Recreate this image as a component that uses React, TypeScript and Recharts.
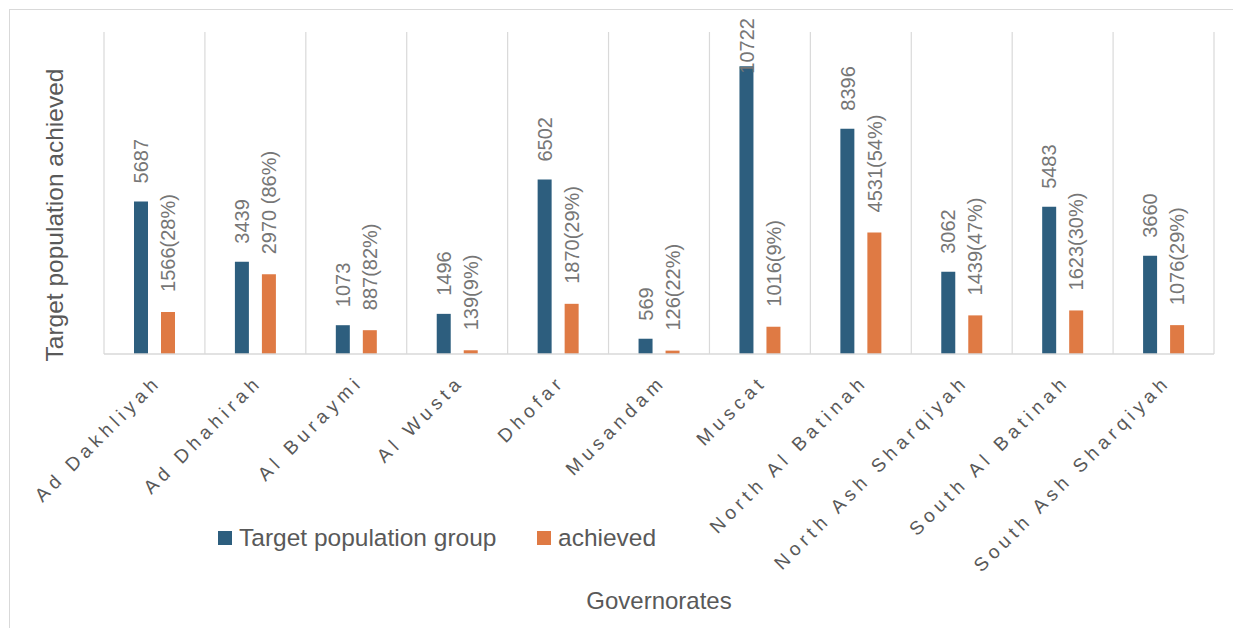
import React from 'react';
import { BarChart, Bar, XAxis, YAxis, CartesianGrid, Legend, LabelList } from 'recharts';

// Governorates and their counts
const categories = [
  'Ad Dakhliyah',
  'Ad Dhahirah',
  'Al Buraymi',
  'Al Wusta',
  'Dhofar',
  'Musandam',
  'Muscat',
  'North Al Batinah',
  'North Ash Sharqiyah',
  'South Al Batinah',
  'South Ash Sharqiyah',
];
const targetGroup = [5687, 3439, 1073, 1496, 6502, 569, 10722, 8396, 3062, 5483, 3660];
const achieved = [1566, 2970, 887, 139, 1870, 126, 1016, 4531, 1439, 1623, 1076];
const achievedShare = ['(28%)', ' (86%)', '(82%)', '(9%)', '(29%)', '(22%)', '(9%)', '(54%)', '(47%)', '(30%)', '(29%)'];

const seriesNames = ['Target population group', 'achieved'];
const seriesColors = ['#2d5e7e', '#df7a44'];
const yDomain: [number, number] = [0, 12000];

const data = categories.map((name, i) => ({
  name,
  target: targetGroup[i],
  achieved: achieved[i],
  achievedLabel: `${achieved[i]}${achievedShare[i]}`,
}));

const FONT = '"Liberation Sans", Arial, Helvetica, sans-serif';
const TEXT = '#595959';
const VALUE_TEXT = '#767676';
const GRID = '#d9d9d9';

const CHART_W = 1231;
const CHART_H = 618;
const Y_AXIS_W = 94;
const X_AXIS_H = 274;
const LABEL_FONT = 20;
const LABEL_TOP = 8;

// rotated value label above each bar; pinned under the top edge when it would overflow
function makeValueLabel(gap: number) {
  return function ValueLabel(props: any) {
    const { x, y, width, value } = props;
    const cx = Number(x) + Number(width) / 2;
    const text = String(value);
    const est = text.length * 0.556 * LABEL_FONT;
    let ay = Number(y) - gap;
    let anchor: 'start' | 'end' = 'start';
    if (ay - est < LABEL_TOP) {
      ay = LABEL_TOP;
      anchor = 'end';
    }
    return (
      <text
        transform={`translate(${cx},${ay}) rotate(-90)`}
        dy="0.36em"
        textAnchor={anchor}
        fill={VALUE_TEXT}
        fontSize={LABEL_FONT}
        fontFamily={FONT}
      >
        {text}
      </text>
    );
  };
}

function CategoryTick(props: any) {
  const { x, y, payload } = props;
  return (
    <text
      transform={`translate(${Number(x) + 8},${Number(y) + 29}) rotate(-45)`}
      textAnchor="end"
      fill={TEXT}
      fontSize={19}
      letterSpacing={4.8}
      fontFamily={FONT}
    >
      {payload.value}
    </text>
  );
}

const legendOffsets = [0, 319];

function LegendBox() {
  return (
    <div style={{ position: 'relative', fontFamily: FONT, fontSize: 24.5, color: TEXT }}>
      {seriesNames.map((n, i) => (
        <div
          key={n}
          style={{
            position: 'absolute',
            left: legendOffsets[i],
            top: 0,
            display: 'flex',
            alignItems: 'center',
            whiteSpace: 'nowrap',
            lineHeight: '28px',
          }}
        >
          <span
            style={{
              display: 'inline-block',
              width: 14,
              height: 14,
              background: seriesColors[i],
              marginRight: 7,
            }}
          />
          {n}
        </div>
      ))}
    </div>
  );
}

export default function App() {
  return (
    <div
      style={{
        position: 'relative',
        marginLeft: 1,
        marginTop: 1,
        width: CHART_W,
        height: CHART_H,
        borderLeft: `1px solid ${GRID}`,
        borderTop: `1px solid ${GRID}`,
      }}
    >
      <BarChart
        width={CHART_W}
        height={CHART_H}
        data={data}
        margin={{ top: 22, right: 27, bottom: 0, left: 0 }}
        barSize={14}
        barGap={13}
      >
        <CartesianGrid
          horizontal={false}
          stroke={GRID}
          strokeWidth={1.2}
          verticalCoordinatesGenerator={({ offset }: any) =>
            Array.from({ length: categories.length + 1 }, (_, i) => offset.left + (i * offset.width) / categories.length)
          }
        />
        <XAxis
          dataKey="name"
          interval={0}
          height={X_AXIS_H}
          tickLine={false}
          tickSize={0}
          tickMargin={0}
          axisLine={{ stroke: GRID, strokeWidth: 1.5 }}
          tick={<CategoryTick />}
          label={{
            content: (p: any) => {
              const vb = p.viewBox;
              return (
                <text
                  x={vb.x + vb.width / 2}
                  y={vb.y + vb.height - 19}
                  textAnchor="middle"
                  fill={TEXT}
                  fontSize={24}
                  fontFamily={FONT}
                >
                  Governorates
                </text>
              );
            },
          }}
        />
        <YAxis
          width={Y_AXIS_W}
          domain={yDomain}
          tick={false}
          tickLine={false}
          axisLine={false}
          label={{
            content: (p: any) => {
              const vb = p.viewBox;
              const cx = vb.x + 53;
              const cy = vb.y + vb.height / 2 + 22;
              return (
                <text
                  transform={`translate(${cx},${cy}) rotate(-90)`}
                  textAnchor="middle"
                  fill={TEXT}
                  fontSize={24.5}
                  fontFamily={FONT}
                >
                  Target population achieved
                </text>
              );
            },
          }}
        />
        <Legend
          content={() => <LegendBox />}
          wrapperStyle={{ position: 'absolute', left: 208, top: 514, width: 600, height: 0 }}
        />
        <Bar dataKey="target" name={seriesNames[0]} fill={seriesColors[0]} isAnimationActive={false}>
          <LabelList dataKey="target" content={makeValueLabel(18)} />
        </Bar>
        <Bar dataKey="achieved" name={seriesNames[1]} fill={seriesColors[1]} isAnimationActive={false}>
          <LabelList dataKey="achievedLabel" content={makeValueLabel(20)} />
        </Bar>
      </BarChart>
    </div>
  );
}
